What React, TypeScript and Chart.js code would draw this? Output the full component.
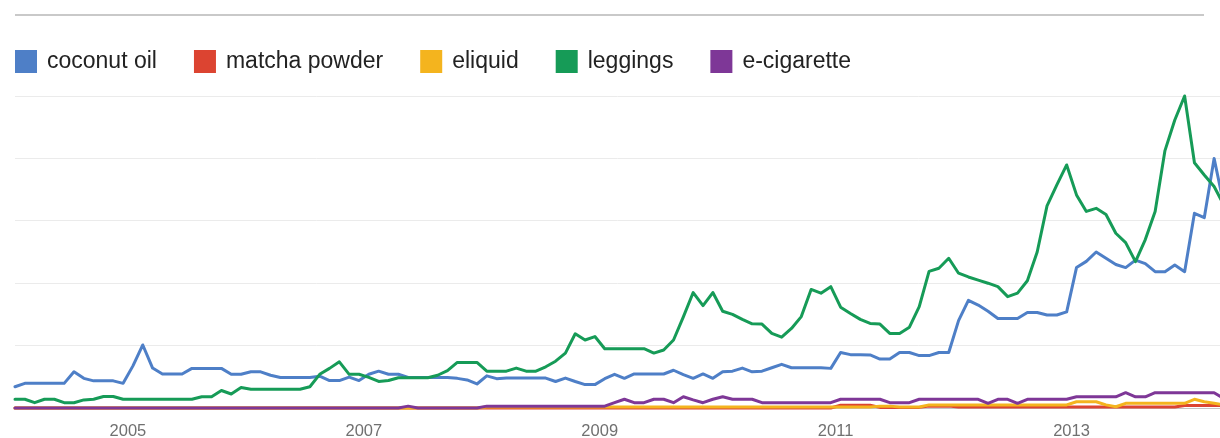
import React, { useEffect, useRef } from 'react';
import { Chart, registerables } from 'chart.js';

Chart.register(...registerables);

// Monthly index: 0 = Jan 2004
const startYear = 2004;
const yearTicks = ['2005', '2007', '2009', '2011', '2013'];
const yearTickMonths = [12, 36, 60, 84, 108];

const seriesNames = ['coconut oil', 'matcha powder', 'eliquid', 'leggings', 'e-cigarette'];
const seriesColors = ['#4e7fc7', '#dc4431', '#f4b41e', '#169b57', '#7e3797'];

const coconutOil = [
  6.8, 7.9, 7.9, 7.9, 7.9, 7.9, 11.6, 9.5, 8.7, 8.7, 8.7, 7.9,
  13.5, 20.2, 12.8, 10.9, 10.9, 10.9, 12.7, 12.7, 12.7, 12.7, 10.8, 10.8,
  11.6, 11.6, 10.5, 9.8, 9.8, 9.8, 9.8, 10.2, 8.8, 8.8, 9.9, 8.8,
  10.8, 11.8, 10.8, 10.8, 9.8, 9.8, 9.8, 9.8, 9.8, 9.5, 9.0, 7.7,
  10.3, 9.4, 9.6, 9.6, 9.6, 9.6, 9.6, 8.5, 9.6, 8.5, 7.5, 7.5,
  9.4, 10.8, 9.5, 10.9, 10.9, 10.9, 10.9, 12.1, 10.7, 9.5, 10.9, 9.5,
  11.6, 11.8, 12.8, 11.6, 11.8, 12.9, 14.0, 12.9, 12.9, 12.9, 12.9, 12.7,
  17.8, 17.1, 17.1, 17.0, 15.7, 15.7, 17.8, 17.8, 16.8, 16.8, 17.8, 17.8,
  28.0, 34.5, 33.0, 31.0, 28.7, 28.7, 28.7, 30.6, 30.6, 29.8, 29.8, 30.8,
  45.0, 47.0, 50.0, 48.0, 46.0, 45.0, 47.4, 46.3, 43.7, 43.7, 45.8, 43.7,
  62.4, 61.0, 80.0, 65.0,
];

const matchaPowder = [
  0, 0, 0, 0, 0, 0, 0, 0, 0, 0, 0, 0,
  0, 0, 0, 0, 0, 0, 0, 0, 0, 0, 0, 0,
  0, 0, 0, 0, 0, 0, 0, 0, 0, 0, 0, 0,
  0, 0, 0, 0, 0, 0, 0, 0, 0, 0, 0, 0,
  0, 0, 0, 0, 0, 0, 0, 0, 0, 0, 0, 0,
  0, 0, 0, 0, 0, 0, 0, 0, 0, 0, 0, 0,
  0, 0, 0, 0, 0, 0, 0, 0, 0, 0, 0, 0,
  0.9, 0.9, 0.9, 0.9, 0.2, 0.2, 0.2, 0.2, 0.2, 0.6, 0.6, 0.6,
  0.3, 0.3, 0.3, 0.3, 0.3, 0.3, 0.3, 0.3, 0.3, 0.3, 0.3, 0.3,
  0.3, 0.3, 0.3, 0.3, 0.3, 0.3, 0.3, 0.3, 0.3, 0.3, 0.3, 0.8,
  0.8, 0.8, 0.8, 0.8,
];

const eliquid = [
  0, 0, 0, 0, 0, 0, 0, 0, 0, 0, 0, 0,
  0, 0, 0, 0, 0, 0, 0, 0, 0, 0, 0, 0,
  0, 0, 0, 0, 0, 0, 0, 0, 0, 0, 0, 0,
  0, 0, 0, 0, 0, 0, 0, 0, 0, 0, 0, 0,
  0.3, 0.3, 0.3, 0.3, 0.3, 0.3, 0.3, 0.3, 0.3, 0.3, 0.3, 0.3,
  0.3, 0.3, 0.3, 0.3, 0.3, 0.3, 0.3, 0.3, 0.3, 0.3, 0.3, 0.3,
  0.3, 0.3, 0.3, 0.3, 0.3, 0.3, 0.3, 0.3, 0.3, 0.3, 0.3, 0.3,
  0.3, 0.3, 0.3, 0.3, 0.6, 0.6, 0.3, 0.3, 0.3, 1.0, 1.0, 1.0,
  1.0, 1.0, 1.0, 1.0, 1.0, 1.0, 1.0, 1.0, 1.0, 1.0, 1.0, 1.0,
  2.0, 2.0, 2.0, 1.0, 0.4, 1.5, 1.5, 1.5, 1.5, 1.5, 1.5, 1.5,
  2.8, 2.0, 1.5, 1.0,
];

const leggings = [
  2.8, 2.8, 1.7, 2.8, 2.8, 1.7, 1.7, 2.6, 2.8, 3.7, 3.7, 2.8,
  2.8, 2.8, 2.8, 2.8, 2.8, 2.8, 2.8, 3.6, 3.6, 5.6, 4.5, 6.6,
  6.0, 6.0, 6.0, 6.0, 6.0, 6.0, 6.8, 10.8, 12.7, 14.8, 10.8, 10.8,
  9.8, 8.5, 8.8, 9.7, 9.7, 9.7, 9.7, 10.5, 12.0, 14.6, 14.6, 14.6,
  11.8, 11.8, 11.8, 12.8, 11.8, 11.8, 13.2, 15.0, 17.6, 23.8, 21.8, 22.9,
  19.0, 19.0, 19.0, 19.0, 19.0, 17.6, 18.6, 21.8, 29.2, 37.0, 32.8, 37.0,
  31.0, 30.0, 28.4, 27.0, 26.9, 23.9, 22.7, 25.5, 29.3, 38.0, 36.8, 38.9,
  32.3, 30.3, 28.4, 27.1, 26.9, 23.9, 23.9, 25.9, 32.5, 43.8, 44.8, 48.0,
  43.2, 42.0, 41.0, 40.0, 38.9, 35.7, 36.8, 40.8, 50.0, 64.8, 71.5, 77.9,
  68.3, 63.0, 64.0, 62.0, 56.0, 53.0, 46.9, 54.0, 63.0, 82.5, 92.3, 100.0,
  78.6, 74.7, 71.0, 65.0,
];

const eCigarette = [
  0, 0, 0, 0, 0, 0, 0, 0, 0, 0, 0, 0,
  0, 0, 0, 0, 0, 0, 0, 0, 0, 0, 0, 0,
  0, 0, 0, 0, 0, 0, 0, 0, 0, 0, 0, 0,
  0, 0, 0, 0, 0.6, 0, 0, 0, 0, 0, 0, 0,
  0.6, 0.6, 0.6, 0.6, 0.6, 0.6, 0.6, 0.6, 0.6, 0.6, 0.6, 0.6,
  0.6, 1.7, 2.8, 1.7, 1.7, 2.8, 2.8, 1.7, 3.6, 2.6, 1.7, 2.8,
  3.6, 2.8, 2.8, 2.8, 1.7, 1.7, 1.7, 1.7, 1.7, 1.7, 1.7, 1.7,
  2.8, 2.8, 2.8, 2.8, 2.8, 1.7, 1.7, 1.7, 2.8, 2.8, 2.8, 2.8,
  2.8, 2.8, 2.8, 1.5, 2.8, 2.8, 1.5, 2.8, 2.8, 2.8, 2.8, 2.8,
  3.6, 3.6, 3.6, 3.6, 3.6, 4.9, 3.6, 3.6, 4.9, 4.9, 4.9, 4.9,
  4.9, 4.9, 4.9, 3.0,
];

const seriesValues = [coconutOil, matchaPowder, eliquid, leggings, eCigarette];
// later series drawn on top (like the original)
const seriesOrder = [4, 3, 2, 1, 0];

const FONT = '"Liberation Sans", Arial, Helvetica, sans-serif';

const legendPlugin = {
  id: 'trendsLegend',
  afterDraw(chart: any) {
    const ctx = chart.ctx as CanvasRenderingContext2D;
    ctx.save();
    // top divider
    ctx.strokeStyle = '#c9c9c9';
    ctx.lineWidth = 2;
    ctx.beginPath();
    ctx.moveTo(15, 15);
    ctx.lineTo(1204, 15);
    ctx.stroke();
    // legend
    ctx.font = `23px ${FONT}`;
    ctx.textBaseline = 'middle';
    ctx.textAlign = 'left';
    let x = 15;
    seriesNames.forEach((name, i) => {
      ctx.fillStyle = seriesColors[i];
      ctx.fillRect(x, 50, 22, 23);
      ctx.fillStyle = '#222222';
      ctx.fillText(name, x + 32, 62);
      x += 32 + ctx.measureText(name).width + 37;
    });
    ctx.restore();
  },
};

export default function App() {
  const canvasRef = useRef<HTMLCanvasElement | null>(null);

  useEffect(() => {
    if (!canvasRef.current) return;
    const chart = new Chart(canvasRef.current, {
      type: 'line',
      data: {
        datasets: seriesNames.map((name, i) => ({
          label: name,
          data: seriesValues[i].map((v, m) => ({ x: m, y: v })),
          borderColor: seriesColors[i],
          backgroundColor: seriesColors[i],
          borderWidth: 3,
          pointRadius: 0,
          pointHoverRadius: 0,
          tension: 0,
          fill: false,
          clip: false as any,
          order: seriesOrder[i],
          borderJoinStyle: 'round' as const,
          borderCapStyle: 'round' as const,
        })),
      },
      options: {
        animation: false,
        responsive: true,
        maintainAspectRatio: false,
        events: [],
        layout: { padding: { left: 15, top: 96, right: 0, bottom: 0 } },
        plugins: {
          legend: { display: false },
          tooltip: { enabled: false },
        },
        scales: {
          x: {
            type: 'linear',
            min: 0,
            max: 122.6,
            grid: { display: false, drawTicks: false },
            border: { display: false },
            afterBuildTicks: (scale: any) => {
              scale.ticks = yearTickMonths.map((v) => ({ value: v }));
            },
            afterFit: (scale: any) => {
              scale.height = 30;
            },
            ticks: {
              autoSkip: false,
              maxRotation: 0,
              minRotation: 0,
              padding: 14,
              labelOffset: -5,
              color: '#707070',
              font: { family: FONT, size: 16.5 },
              callback: (value: any) => {
                const idx = yearTickMonths.indexOf(Number(value));
                return idx >= 0 ? yearTicks[idx] : String(startYear + Math.floor(Number(value) / 12));
              },
            },
          },
          y: {
            min: 0,
            max: 100,
            ticks: { display: false, stepSize: 20 },
            grid: {
              drawTicks: false,
              lineWidth: 1,
              color: (ctx: any) => (ctx.tick && ctx.tick.value === 0 ? '#c4c4c4' : '#ebebeb'),
            },
            border: { display: false },
            afterFit: (scale: any) => {
              scale.width = 0;
            },
          },
        },
      },
      plugins: [legendPlugin],
    });
    return () => chart.destroy();
  }, []);

  return (
    <div
      style={{
        position: 'fixed',
        left: 0,
        top: 0,
        width: 1220,
        height: 438,
        background: '#ffffff',
        overflow: 'hidden',
      }}
    >
      <canvas ref={canvasRef} />
    </div>
  );
}
